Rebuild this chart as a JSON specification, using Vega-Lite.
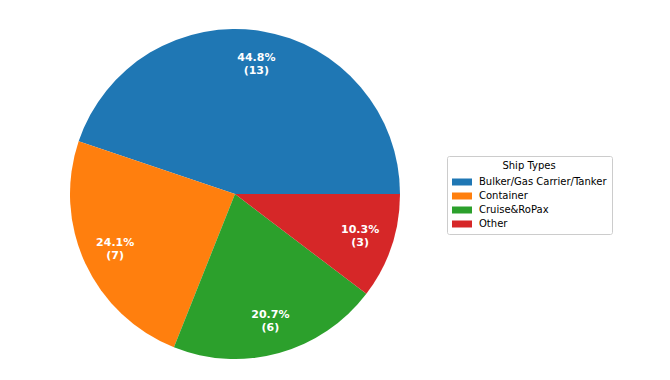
{
  "$schema": "https://vega.github.io/schema/vega-lite/v6.json",
  "width": 330,
  "height": 330,
  "padding": {"left": 70, "top": 29, "right": 0, "bottom": 0},
  "config": {"font": "DejaVu Sans", "view": {"stroke": null}},
  "data": {
    "values": [
      {"type": "Bulker/Gas Carrier/Tanker", "count": 13, "label": "44.8%\n(13)", "ord": 4},
      {"type": "Container", "count": 7, "label": "24.1%\n(7)", "ord": 3},
      {"type": "Cruise&RoPax", "count": 6, "label": "20.7%\n(6)", "ord": 2},
      {"type": "Other", "count": 3, "label": "10.3%\n(3)", "ord": 1}
    ]
  },
  "encoding": {
    "theta": {"field": "count", "type": "quantitative", "stack": true, "scale": {"range": [1.5707963, 7.8539816]}},
    "order": {"field": "ord", "type": "quantitative"},
    "color": {
      "field": "type", "type": "nominal",
      "scale": {
        "domain": ["Bulker/Gas Carrier/Tanker", "Container", "Cruise&RoPax", "Other"],
        "range": ["#1f77b4", "#ff7f0e", "#2ca02c", "#d62728"]
      },
      "legend": {
        "title": "Ship Types",
        "orient": "none",
        "legendX": 377,
        "legendY": 127,
        "titleFontSize": 10,
        "titleFontWeight": "normal",
        "titleColor": "#000000",
        "titleAnchor": "middle",
        "titlePadding": 6,
        "labelFontSize": 10,
        "labelColor": "#000000",
        "symbolType": "M-2,-0.7L2,-0.7L2,0.7L-2,0.7Z",
        "symbolSize": 100,
        "symbolStrokeWidth": 0,
        "symbolOffset": 5,
        "labelOffset": 12,
        "rowPadding": 4,
        "padding": 5,
        "strokeColor": "#cccccc",
        "cornerRadius": 2
      }
    }
  },
  "layer": [
    {"mark": {"type": "arc", "outerRadius": 165}},
    {
      "mark": {"type": "text", "radius": 132, "dy": -6, "fontSize": 11, "fontWeight": "bold", "color": "white", "lineBreak": "\n", "baseline": "middle", "align": "center"},
      "encoding": {"text": {"field": "label"}, "color": {"value": "white"}}
    }
  ]
}
